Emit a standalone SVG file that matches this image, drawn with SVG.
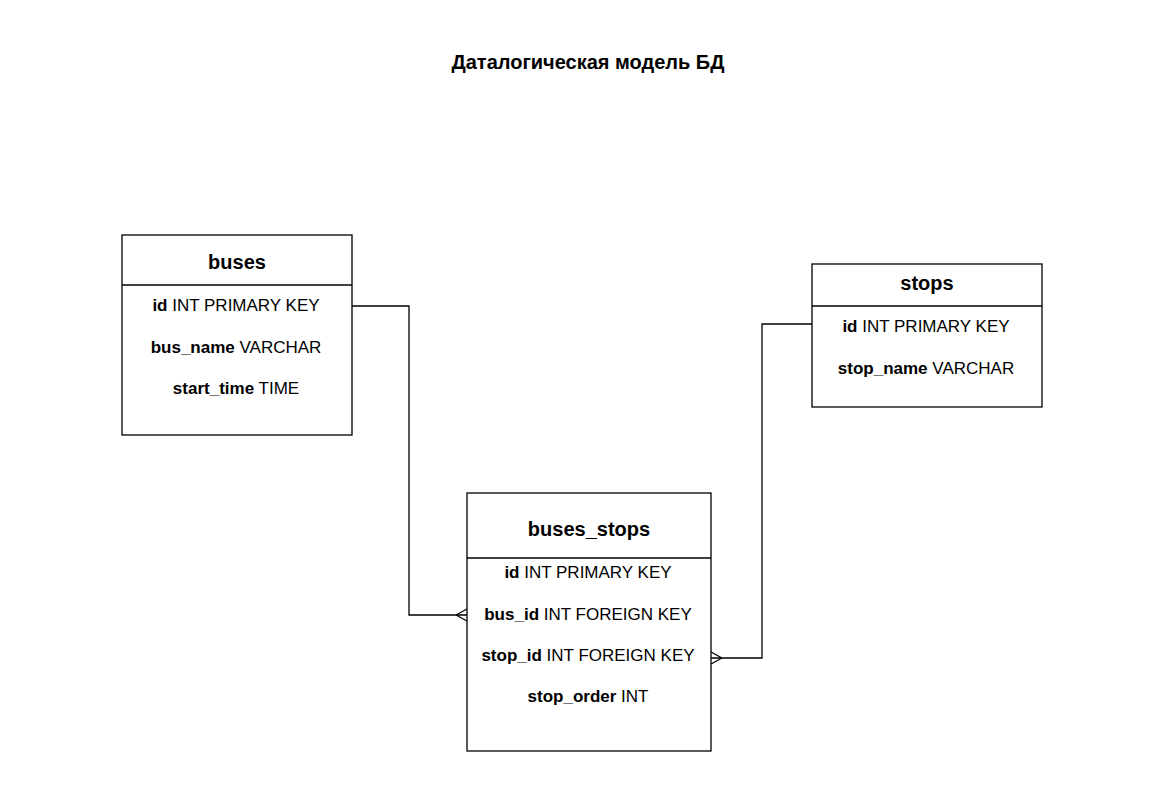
<svg xmlns="http://www.w3.org/2000/svg" width="1162" height="797" viewBox="0 0 1162 797">
<style>
.box{fill:#fff;stroke:#000;stroke-width:1.3}
.div{stroke:#000;stroke-width:1.3}
.t{font-family:"Liberation Sans",Arial,sans-serif;font-size:20px;font-weight:bold;text-anchor:middle;dominant-baseline:central;fill:#000}
.r{font-family:"Liberation Sans",Arial,sans-serif;font-size:17px;text-anchor:middle;dominant-baseline:central;fill:#000}
.r tspan.b{font-weight:bold}
.edge{fill:none;stroke:#000;stroke-width:1.3}
.title{font-family:"Liberation Sans",Arial,sans-serif;font-size:20px;font-weight:bold;text-anchor:middle;dominant-baseline:central;fill:#000}
</style>
<rect width="1162" height="797" fill="#fff"/>
<text class="title" x="588" y="62">Даталогическая модель БД</text>
<g id="connectors">
<path class="edge" d="M352,306 H409 V615 H467"/>
<path class="edge" d="M456,615 L467,609 M456,615 L467,621"/>
<path class="edge" d="M812,324 H762 V658 H711"/>
<path class="edge" d="M722,658 L711,652 M722,658 L711,664"/>
</g>
<g id="buses">
<rect class="box" x="122" y="235" width="230" height="200"/>
<line class="div" x1="122" y1="285" x2="352" y2="285"/>
<text class="t" x="237" y="262">buses</text>
<text class="r" x="236" y="305"><tspan class="b">id</tspan> INT PRIMARY KEY</text>
<text class="r" x="236" y="347"><tspan class="b">bus_name</tspan> VARCHAR</text>
<text class="r" x="236" y="388"><tspan class="b">start_time</tspan> TIME</text>
</g>
<g id="stops">
<rect class="box" x="812" y="264" width="230" height="143"/>
<line class="div" x1="812" y1="306" x2="1042" y2="306"/>
<text class="t" x="927" y="283">stops</text>
<text class="r" x="926" y="326"><tspan class="b">id</tspan> INT PRIMARY KEY</text>
<text class="r" x="926" y="368"><tspan class="b">stop_name</tspan> VARCHAR</text>
</g>
<g id="buses_stops">
<rect class="box" x="467" y="493" width="244" height="258"/>
<line class="div" x1="467" y1="558" x2="711" y2="558"/>
<text class="t" x="589" y="529">buses_stops</text>
<text class="r" x="588" y="572"><tspan class="b">id</tspan> INT PRIMARY KEY</text>
<text class="r" x="588" y="614"><tspan class="b">bus_id</tspan> INT FOREIGN KEY</text>
<text class="r" x="588" y="655"><tspan class="b">stop_id</tspan> INT FOREIGN KEY</text>
<text class="r" x="588" y="696"><tspan class="b">stop_order</tspan> INT</text>
</g>
</svg>
